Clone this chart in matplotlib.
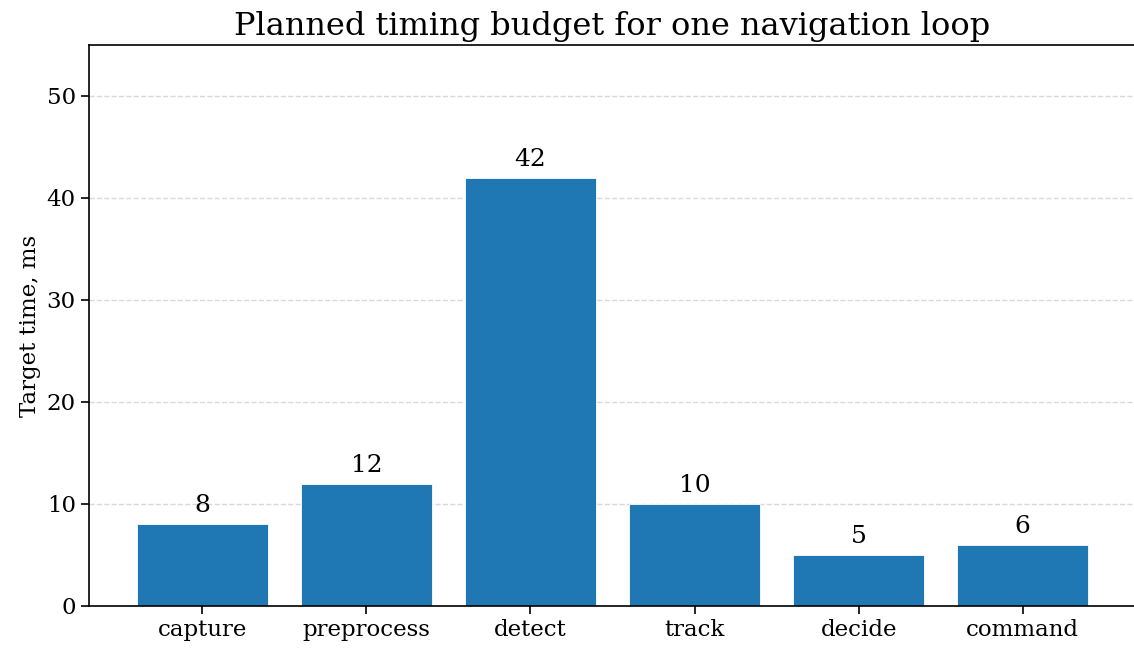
import matplotlib
matplotlib.use("Agg")
import matplotlib.pyplot as plt

# Stage names and planned time per stage (ms)
stages = ["capture", "preprocess", "detect", "track", "decide", "command"]
target_ms = [8, 12, 42, 10, 5, 6]

plt.rcParams['font.family'] = ['DejaVu Serif']

fig = plt.figure(figsize=(11.34, 6.48), dpi=100)
ax = fig.add_axes([89 / 1134, 42 / 648, 1047 / 1134, 561 / 648])

bars = ax.bar(stages, target_ms, width=0.8, color="#1f77b4",
              edgecolor="white", linewidth=0.6, zorder=2)
for rect, v in zip(bars, target_ms):
    ax.annotate(f"{v}", (rect.get_x() + rect.get_width() / 2, rect.get_height()),
                xytext=(0, 5), textcoords="offset points",
                ha="center", va="bottom", fontsize=18)

ax.set_ylim(0, 55)
ax.set_yticks([0, 10, 20, 30, 40, 50])
ax.grid(axis="y", linestyle="--", color="#d9d9d9", linewidth=1, zorder=0)
ax.set_axisbelow(True)
ax.tick_params(labelsize=16.5, length=6, width=1.2)
for s in ax.spines.values():
    s.set_linewidth(1.2)
ax.set_ylabel("Target time, ms", fontsize=16.5)
ax.set_title("Planned timing budget for one navigation loop", fontsize=23, pad=7)

fig.savefig("out.png", dpi=100)
